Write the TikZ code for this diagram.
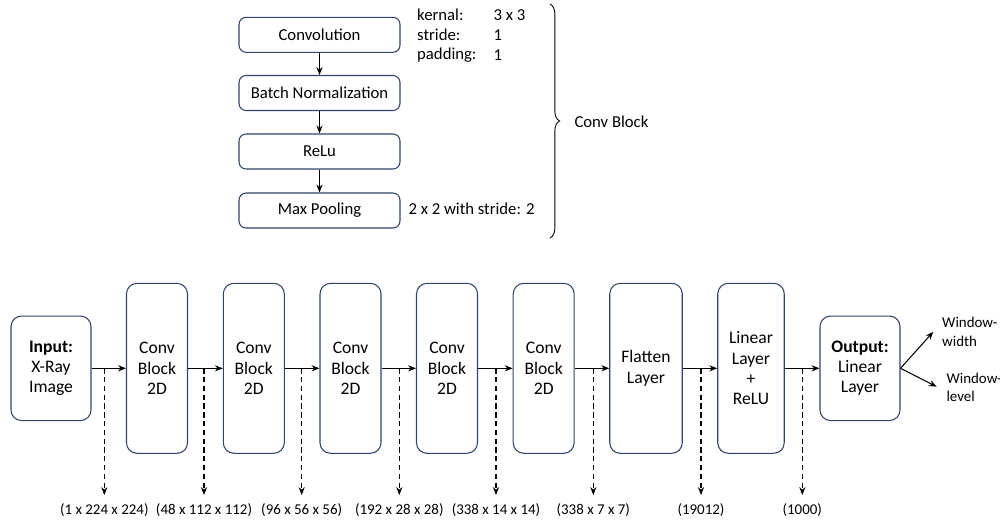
\documentclass[tikz,border=0pt]{standalone}
\usepackage{fontspec}
\setmainfont{Carlito}
\usetikzlibrary{arrows.meta, decorations.pathreplacing}
\definecolor{boxline}{HTML}{2F4468}

\begin{document}
\begin{tikzpicture}[x=0.02cm, y=-0.02cm, >={Stealth[length=4.5pt,width=3.5pt]}, line width=0.6pt,
  opbox/.style={draw=boxline, rounded corners=4pt, minimum width=3.22cm, minimum height=0.7cm,
    font=\fontsize{9.5}{11.5}\selectfont},
  layer/.style={draw=boxline, rounded corners=6pt, align=center, minimum height=3.4cm,
    font=\fontsize{10}{11.5}\selectfont},
  io/.style={layer, minimum width=1.6cm, minimum height=2.09cm},
  note/.style={anchor=west, inner sep=0pt, font=\fontsize{9.5}{11.5}\selectfont},
  dims/.style={inner sep=0pt, font=\fontsize{8.5}{10}\selectfont},
  tap/.style={->, dashed, dash pattern=on 3pt off 2pt}]
  \useasboundingbox (0,0) rectangle (1000,522);

  % Conv block detail
  \node[opbox] (conv) at (319.5,34.8) {Convolution};
  \node[opbox] (bn)   at (319.5,93)   {Batch Normalization};
  \node[opbox] (relu) at (319.5,151.5) {ReLu};
  \node[opbox] (pool) at (319.5,210.5) {Max Pooling};
  \draw[->] (conv) -- (bn);
  \draw[->] (bn) -- (relu);
  \draw[->] (relu) -- (pool);

  \node[note] (k1) at (416.7,15) {kernal:};
  \node[note] (k2) at (493,15)   {3 x 3};
  \node[note] (s1) at (416.7,35) {stride:};
  \node[note] (s2) at (493,35)   {1};
  \node[note] (p1) at (416.7,55) {padding:};
  \node[note] (p2) at (493,55)   {1};
  \node[note] (mp) at (408,209)  {2 x 2 with stride: 2};

  \coordinate (bt) at (550,4);
  \coordinate (bb) at (550,238);
  \draw[decorate, decoration={brace, amplitude=5.5pt}, line width=0.5pt] (bt) -- (bb);
  \node[note] (blk) at (574,122) {Conv Block};

  % Network
  \node[io] (in) at (51,368.3) {\textbf{Input:}\\X-Ray\\Image};
  \foreach \i/\x in {1/157, 2/253.8, 3/350.5, 4/447, 5/543.7}
    \node[layer, minimum width=1.22cm] (cb\i) at (\x,368.3) {Conv\\Block\\2D};
  \node[layer, minimum width=1.45cm] (flat) at (646,368.3) {Flatten\\Layer};
  \node[layer, minimum width=1.33cm] (lin) at (751,368.3) {Linear\\Layer\\+\\ReLU};
  \node[io] (out) at (860,368.3) {\textbf{Output:}\\Linear\\Layer};

  \foreach \a/\b in {in/cb1, cb1/cb2, cb2/cb3, cb3/cb4, cb4/cb5, cb5/flat, flat/lin, lin/out}
    \draw[->] (\a) -- (\b);

  % Output shapes
  \foreach \n/\x/\t in {t1/104.3/{(1 x 224 x 224)}, t2/204/{(48 x 112 x 112)},
      t3/301.7/{(96 x 56 x 56)}, t4/399.3/{(192 x 28 x 28)}, t5/496/{(338 x 14 x 14)},
      t6/593.3/{(338 x 7 x 7)}, t7/701/{(19012)}, t8/802.3/{(1000)}} {
    \coordinate (\n) at (\x,368.3);
    \coordinate (\n e) at (\x,495);
    \node[dims] (\n l) at (\x,510) {\t};
    \draw[tap] (\n) -- (\n e);
  }

  % Outputs
  \coordinate (ww) at (933.3,331.7);
  \coordinate (wl) at (936.7,386.7);
  \draw[->] (out.east) -- (ww);
  \draw[->] (out.east) -- (wl);
  \node[note, align=left, font=\fontsize{8.5}{10.5}\selectfont] (wwl) at (941.7,332) {Window-\\width};
  \node[note, align=left, font=\fontsize{8.5}{10.5}\selectfont] (wll) at (946,387.5) {Window-\\level};
\end{tikzpicture}
\end{document}
